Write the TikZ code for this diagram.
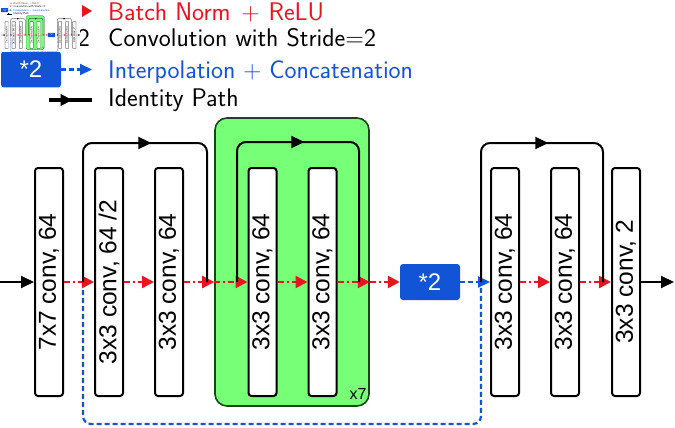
\documentclass[tikz,border=0pt]{standalone}
\usepackage{fontspec}
\newfontfamily\boxfont{Liberation Sans}
\usetikzlibrary{arrows.meta,decorations.markings,calc}
\definecolor{nred}{RGB}{232,20,30}
\definecolor{nblue}{RGB}{18,84,214}
\definecolor{ngreen}{RGB}{120,255,120}
\definecolor{ngborder}{RGB}{25,70,25}
\def\lwf{1}
\tikzset{
  convbox/.style={draw=black, fill=white, line width=2*\lwf pt, rounded corners=3*\lwf pt,
    minimum width=28pt, minimum height=228pt, inner sep=0pt,
    font=\boxfont\fontsize{24.5}{29}\selectfont},
  greenbox/.style={draw=ngborder, fill=ngreen, line width=1.6*\lwf pt, rounded corners=12*\lwf pt,
    minimum width=154pt, minimum height=288pt, inner sep=0pt},
  upbox/.style={fill=nblue, rounded corners=3*\lwf pt, minimum width=60pt, minimum height=36pt,
    inner sep=0pt, text=white, font=\boxfont\fontsize{24}{28}\selectfont},
  xsev/.style={inner sep=0pt, font=\boxfont\fontsize{16}{18}\selectfont},
  legtext/.style={anchor=base west, inner sep=0pt, font=\sffamily\fontsize{25.5}{30}\selectfont},
  bnarrow/.style={draw=nred, line width=2.5*\lwf pt,
    dash pattern=on 6*\lwf pt off 3*\lwf pt on 2*\lwf pt off 3*\lwf pt,
    -{Triangle[length=12pt,width=12pt,scale=\lwf]}},
  ciarrow/.style={draw=nblue, line width=2.2*\lwf pt,
    dash pattern=on 5*\lwf pt off 3*\lwf pt,
    -{Triangle[length=12pt,width=11pt,scale=\lwf]}},
  ciline/.style={draw=nblue, line width=2.2*\lwf pt, rounded corners=8*\lwf pt,
    dash pattern=on 5*\lwf pt off 3*\lwf pt},
  plainarrow/.style={draw=black, line width=2*\lwf pt, -{Triangle[length=13pt,width=12pt,scale=\lwf]}},
  skipline/.style={draw=black, line width=2*\lwf pt, rounded corners=9*\lwf pt,
    postaction={decorate}, decoration={markings,
      mark=at position 0.516 with {\arrow{Triangle[length=13pt,width=12pt,scale=\lwf]}}}},
  legskip/.style={draw=black, line width=3.2*\lwf pt,
    postaction={decorate}, decoration={markings,
      mark=at position 0.55 with {\arrow{Triangle[length=12pt,width=11pt,scale=\lwf]}}}},
}
\newcommand\netbody{%
  \node[greenbox] (g) at (292,262) {};
  \node[convbox] (c1) at (49,282) {\rotatebox{90}{7x7 conv, 64}};
  \node[convbox] (c2) at (109,282) {\rotatebox{90}{3x3 conv, 64 /2}};
  \node[convbox] (c3) at (169,282) {\rotatebox{90}{3x3 conv, 64}};
  \node[convbox] (c4) at (262.5,282) {\rotatebox{90}{3x3 conv, 64}};
  \node[convbox] (c5) at (322.5,282) {\rotatebox{90}{3x3 conv, 64}};
  \node[upbox] (up) at (430,282) {*2};
  \node[convbox] (c6) at (505,282) {\rotatebox{90}{3x3 conv, 64}};
  \node[convbox] (c7) at (565,282) {\rotatebox{90}{3x3 conv, 64}};
  \node[convbox] (c8) at (626,282) {\rotatebox{90}{3x3 conv, 2}};
  \node[xsev] (x7) at (358,394) {x7};
  \coordinate (in) at (0,282);
  \coordinate (out) at (674,282);
  \coordinate (s1a) at (83,282);  \coordinate (s1t) at (145,143); \coordinate (s1b) at (207,282);
  \coordinate (s2a) at (237,282); \coordinate (s2t) at (298,142); \coordinate (s2b) at (359,282);
  \coordinate (s3a) at (481,282); \coordinate (s3t) at (542,143); \coordinate (s3b) at (603,282);
  \coordinate (bb) at (282,424);
  \draw[ciline] (s1a) |- (bb) -| (s3a);
  \draw[plainarrow] (in) -- (c1);
  \draw[bnarrow] (c1) -- (c2);
  \draw[bnarrow] (c2) -- (c3);
  \draw[bnarrow] (c3) -- (c3 -| g.west);
  \draw[bnarrow] (g.west |- c4) -- (c4);
  \draw[bnarrow] (c4) -- (c5);
  \draw[bnarrow] (c5) -- (c5 -| g.east);
  \draw[bnarrow] (g.east |- up) -- (up);
  \draw[ciarrow] (up) -- (c6);
  \draw[bnarrow] (c6) -- (c7);
  \draw[bnarrow] (c7) -- (c8);
  \draw[plainarrow] (c8) -- (out);
  \draw[skipline] (s1a) |- (s1t) -| (s1b);
  \draw[skipline] (s2a) |- (s2t) -| (s2b);
  \draw[skipline] (s3a) |- (s3t) -| (s3b);
}
\newcommand\netlegend{%
  \fill[nred] (82,5) -- (92,11) -- (82,17) -- cycle;
  \node[legtext, text=nred] (l1) at (108,20.5) {Batch Norm\hspace{3pt} $+$\hspace{1pt} ReLU};
  \node[legtext, anchor=base east] (l2a) at (90,46.5) {/2};
  \node[legtext] (l2) at (108,46.5) {Convolution with Stride=2};
  \node[upbox] (lup) at (31,69.5) {*2};
  \coordinate (lupe) at (92,69.5);
  \draw[ciarrow] (lup) -- (lupe);
  \node[legtext, text=nblue] (l3) at (108,78) {Interpolation $+$ Concatenation};
  \coordinate (lia) at (49,100); \coordinate (lib) at (92,100);
  \draw[legskip] (lia) -- (lib);
  \node[legtext] (l4) at (108,106.5) {Identity Path};
}
\begin{document}
\begin{tikzpicture}[x=1pt,y=-1pt]
  \useasboundingbox (0,0) rectangle (675,428);
  \netbody
  \netlegend
  \begin{scope}[shift={(1,2)}, scale=0.117, transform shape, name prefix=t-]
    \def\lwf{0.117}
    \fill[white] (0,0) rectangle (675,428);
    \netbody
    \netlegend
  \end{scope}
\end{tikzpicture}
\end{document}
